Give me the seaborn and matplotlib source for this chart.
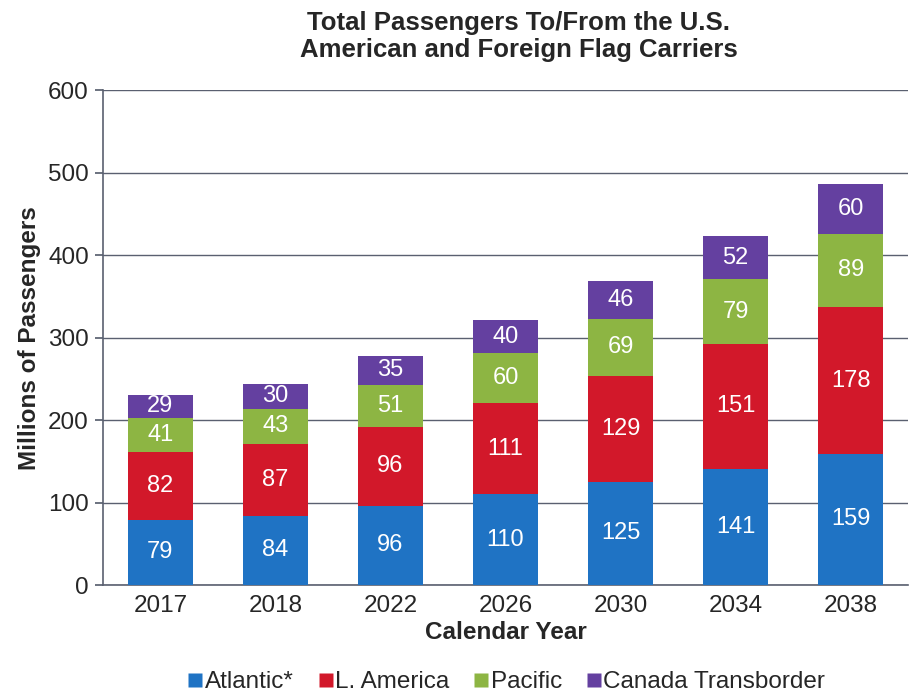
import matplotlib
matplotlib.use("Agg")
import matplotlib.pyplot as plt
import seaborn as sns
import pandas as pd
import numpy as np
from matplotlib.lines import Line2D

years = ["2017", "2018", "2022", "2026", "2030", "2034", "2038"]
atlantic = [79, 84, 96, 110, 125, 141, 159]
l_america = [82, 87, 96, 111, 129, 151, 178]
pacific = [41, 43, 51, 60, 69, 79, 89]
canada = [29, 30, 35, 40, 46, 52, 60]

series_names = ["Atlantic*", "L. America", "Pacific", "Canada Transborder"]
series_values = [atlantic, l_america, pacific, canada]
colors = ["#1f73c4", "#d2182a", "#8db543", "#6440a0"]

sns.set_theme(style="white")
plt.rcParams["font.family"] = ["Liberation Sans", "DejaVu Sans"]

fig = plt.figure(figsize=(9.1, 6.94), dpi=100)
ax = fig.add_axes([0.113, 0.157, 0.885, 0.713])

# Cumulative stacked bars: each layer drawn as total height up to that series
df = pd.DataFrame({"year": years})
bottom = np.zeros(len(years))
for name, vals, col in zip(series_names, series_values, colors):
    df["top"] = bottom + np.array(vals)
    sns.barplot(data=df, x="year", y="top", color=col, width=0.57,
                saturation=1, ax=ax, label=name)
    bottom = bottom + np.array(vals)

# lower layers must sit in front of the taller cumulative bars
for i, cont in enumerate(ax.containers):
    for bar in cont:
        bar.set_zorder(10 - i)
        bar.set_edgecolor("none")

# Segment value labels
bottom = np.zeros(len(years))
for vals in series_values:
    for j, v in enumerate(vals):
        ax.text(j, bottom[j] + v / 2, f"{v}", ha="center", va="center",
                color="white", fontsize=17, zorder=20)
    bottom = bottom + np.array(vals)

ax.set_ylim(0, 600)
ax.set_xlim(-0.5, 6.5)
ax.set_yticks(range(0, 601, 100))
ax.yaxis.grid(True, color="#5a6070", linewidth=1.0, zorder=0)
ax.set_axisbelow(True)
for s in ["top", "right"]:
    ax.spines[s].set_visible(False)
ax.spines["left"].set_color("#5a6070")
ax.spines["bottom"].set_color("#5a6070")
ax.spines["left"].set_linewidth(1.2)
ax.spines["bottom"].set_linewidth(1.2)
ax.tick_params(axis="y", length=6, color="#5a6070", labelsize=17.5, pad=4, left=True)
ax.tick_params(axis="x", length=0, labelsize=17.5, pad=7)
ax.set_xlabel("Calendar Year", fontsize=17.5, fontweight="bold", labelpad=3)
ax.set_ylabel("Millions of Passengers", fontsize=17.5, fontweight="bold", labelpad=5)

fig.suptitle("Total Passengers To/From the U.S.\nAmerican and Foreign Flag Carriers",
             x=0.57, y=0.984, fontsize=18.5, fontweight="bold", linespacing=1.15)

handles = [Line2D([0], [0], marker="s", linestyle="none", markersize=10,
                  markerfacecolor=c, markeredgecolor="none") for c in colors]
ax.legend(handles, series_names, loc="upper center", bbox_to_anchor=(0.5, -0.155),
          ncol=4, frameon=False, fontsize=17.5, handletextpad=0.0,
          columnspacing=0.9, handlelength=0.8, borderaxespad=0)

fig.savefig("out.png", dpi=100, facecolor="white")
